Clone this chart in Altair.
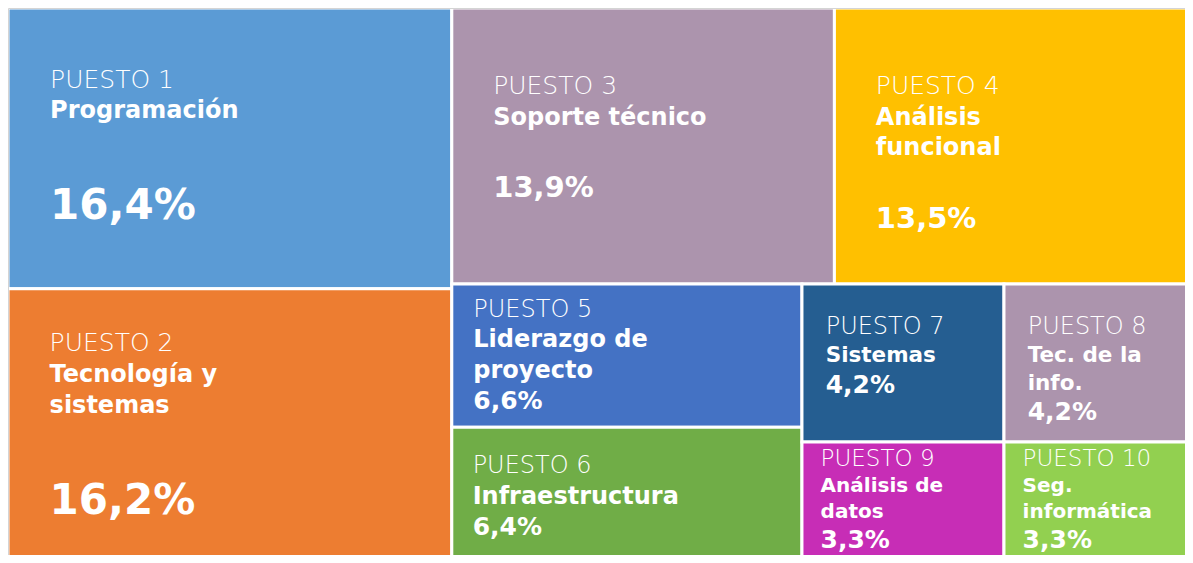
import altair as alt
import pandas as pd

# ---- data ----
ranks = [1, 2, 3, 4, 5, 6, 7, 8, 9, 10]
names = [
    ["Programación"],
    ["Tecnología y", "sistemas"],
    ["Soporte técnico"],
    ["Análisis", "funcional"],
    ["Liderazgo de", "proyecto"],
    ["Infraestructura"],
    ["Sistemas"],
    ["Tec. de la", "info."],
    ["Análisis de", "datos"],
    ["Seg.", "informática"],
]
shares = [16.4, 16.2, 13.9, 13.5, 6.6, 6.4, 4.2, 4.2, 3.3, 3.3]
palette = ["#5B9BD5", "#ED7D31", "#AC94AD", "#FFC000", "#4472C4",
           "#70AD47", "#255E91", "#AC94AD", "#C72DB6", "#92D050"]

# ---- geometry: the treemap is larger than the visible window (cropped at right/bottom) ----
W_FULL, H_FULL = 1198, 558
W, H = 1177, 547
strips = [((0, 1), "v"), ((2, 3), "h"), ((4, 5), "v"), ((6, 7), "h"), ((8, 9), "h")]


def layout(values, strips):
    x0, y0, x1, y1 = 0.0, 0.0, 1.0, 1.0
    remaining = sum(values)
    out = {}
    for k, (group, orient) in enumerate(strips):
        gsum = sum(values[i] for i in group)
        share = 1.0 if k == len(strips) - 1 else gsum / remaining
        if orient == "v":
            xs = x0 + (x1 - x0) * share
            y = y0
            for i in group:
                h = (y1 - y0) * values[i] / gsum
                out[i] = (x0, y, xs, y + h)
                y += h
            x0 = xs
        else:
            ys = y0 + (y1 - y0) * share
            x = x0
            for i in group:
                w = (x1 - x0) * values[i] / gsum
                out[i] = (x, y0, x + w, ys)
                x += w
            y0 = ys
        remaining -= gsum
    return out


rects = layout(shares, strips)
labels = [f"PUESTO {r}" for r in ranks]
n = len(shares)

rect_df = pd.DataFrame({
    "puesto": labels,
    "x0": [rects[i][0] for i in range(n)],
    "y0": [rects[i][1] for i in range(n)],
    "x1": [rects[i][2] for i in range(n)],
    "y1": [rects[i][3] for i in range(n)],
})


def tier(v):
    # font sizes (label, name, percentage) by tile size
    if v >= 15:
        return 25, 24, 42
    if v >= 10:
        return 25, 24, 29
    if v >= 5:
        return 24, 24, 25
    if v >= 4:
        return 24, 21.5, 25
    return 23, 20, 25


ASC, DESC = 0.95, 0.32
blocks = {}
for i, v in enumerate(shares):
    x0, y0, x1, y1 = rects[i]
    wpx, hpx = (x1 - x0) * W_FULL, (y1 - y0) * H_FULL
    s_lab, s_name, s_pct = tier(v)
    pct = f"{v:.1f}".replace(".", ",") + "%"
    lines = [("label", labels[i], s_lab)]
    lines += [("name", t, s_name) for t in names[i]]
    if hpx > 200:
        lines.append(("blank", "", s_pct))
    lines.append(("pct", pct, s_pct))
    y = ASC * lines[0][2]
    bases = [y]
    for prev, cur in zip(lines[:-1], lines[1:]):
        y += DESC * prev[2] + ASC * cur[2]
        bases.append(y)
    block = y + DESC * lines[-1][2]
    top = y0 * H_FULL + (hpx - block) / 2          # vertically centred block
    tx = x0 + 0.15 * min(wpx, hpx) / W_FULL
    blocks[i] = {"lines": lines, "bases": bases, "top": top, "x": tx}

# tiles side by side in a horizontal strip share one text top (mean of centred tops)
for group, orient in strips:
    if orient == "h":
        t = sum(blocks[i]["top"] for i in group) / len(group)
        for i in group:
            blocks[i]["top"] = t

# keep every text block inside the visible window
for i in range(n):
    b = blocks[i]
    last_size = b["lines"][-1][2]
    limit = H - (b["bases"][-1] + 0.25 * last_size) - 1
    b["top"] = min(b["top"], limit)

rows = []
for i in range(n):
    b = blocks[i]
    for (kind, t, s), base_y in zip(b["lines"], b["bases"]):
        if kind == "blank":
            continue
        rows.append({"kind": kind, "text": t, "size": s, "x": b["x"],
                     "y": (b["top"] + base_y) / H_FULL})

text_df = pd.DataFrame(rows)

xs = alt.Scale(domain=[0, W / W_FULL], nice=False, zero=False)
ys = alt.Scale(domain=[0, H / H_FULL], nice=False, zero=False, reverse=True)

tiles = alt.Chart(rect_df).mark_rect(stroke="white", strokeWidth=3, clip=True).encode(
    x=alt.X("x0:Q", scale=xs, axis=None),
    x2="x1:Q",
    y=alt.Y("y0:Q", scale=ys, axis=None),
    y2="y1:Q",
    color=alt.Color("puesto:N", scale=alt.Scale(domain=labels, range=palette), legend=None),
)

base = alt.Chart(text_df).encode(
    x=alt.X("x:Q", scale=xs, axis=None),
    y=alt.Y("y:Q", scale=ys, axis=None),
    text="text:N",
    size=alt.Size("size:Q", scale=None, legend=None),
)
font = "DejaVu Sans"
lab = base.transform_filter(alt.datum.kind == "label").mark_text(
    align="left", baseline="alphabetic", font=font, fontWeight=200, color="white", clip=True)
nam = base.transform_filter(alt.datum.kind == "name").mark_text(
    align="left", baseline="alphabetic", font=font, fontWeight="bold", color="white", clip=True)
pc = base.transform_filter(alt.datum.kind == "pct").mark_text(
    align="left", baseline="alphabetic", font=font, fontWeight="bold", color="white", clip=True)

frame = alt.Chart(pd.DataFrame({"k": [0]})).mark_rect(
    fillOpacity=0, stroke="#d4d4d4", strokeWidth=1, clip=True).encode(
    x=alt.value(0.5), x2=alt.value(W + 5), y=alt.value(0.5), y2=alt.value(H + 5))

chart = alt.layer(tiles, lab, nam, pc, frame).properties(
    width=W, height=H, padding=0, autosize="none"
).configure_view(stroke=None)

chart.save("out.html", embed_options={"renderer": "svg", "actions": False})
